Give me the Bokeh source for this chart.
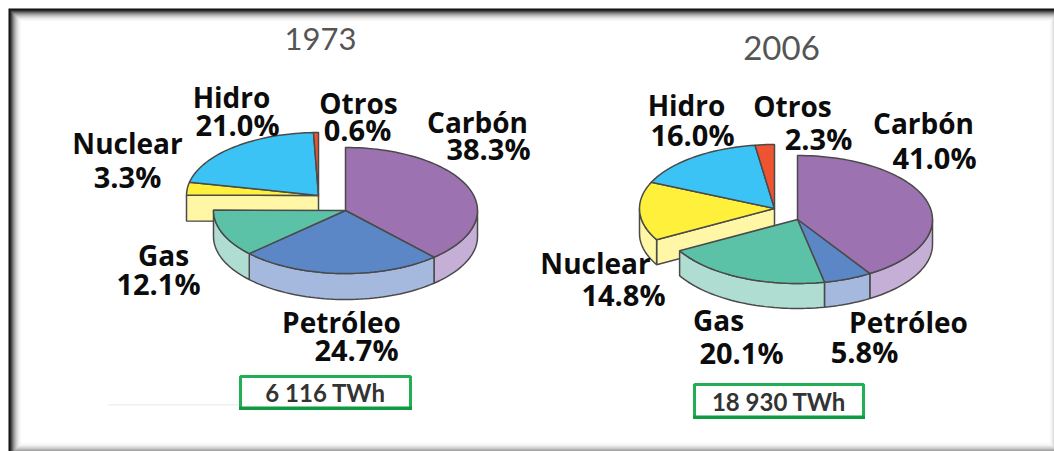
import math
from bokeh.plotting import figure
from bokeh.models import Range1d
from bokeh.core.properties import value
from bokeh.embed import file_html
from bokeh.resources import INLINE

# --- data ---
sources = ["Carbón", "Petróleo", "Gas", "Nuclear", "Hidro", "Otros"]
shares_1973 = [38.3, 24.7, 12.1, 3.3, 21.0, 0.6]
shares_2006 = [41.0, 5.8, 20.1, 14.8, 16.0, 2.3]
total_1973 = "6 116 TWh"
total_2006 = "18 930 TWh"
years = ["1973", "2006"]

# --- style ---
top_colors = ["#9C72B0", "#5B87C6", "#5CC2A7", "#FFF03C", "#3CC3F6", "#EE5432"]
side_colors = ["#C6AFD6", "#A5B9DF", "#AFDDD2", "#FFF6A6", "#3CC3F6", "#EE5432"]
edge = "#4a4a4a"
green = "#22AE55"
dark_green = "#0E9A40"

# --- layout (page pixels) ---
W, H = 1054, 451
p = figure(width=W, height=H, x_range=Range1d(0, W), y_range=Range1d(H, 0),
           output_backend="svg", toolbar_location=None, min_border=0,
           border_fill_color="white", background_fill_color="white")
p.xaxis.visible = False
p.yaxis.visible = False
p.grid.visible = False
p.outline_line_color = None

# picture frame: soft dark bevel, drawn as nested rectangles
bevel = ["#0c0c0c", "#1c1c1c", "#3a3a3a", "#5c5c5c", "#7c7c7c", "#989898", "#b0b0b0",
         "#c4c4c4", "#d6d6d6", "#e4e4e4", "#efefef", "#f7f7f7", "#fcfcfc", "#ffffff"]
n = len(bevel)
p.quad(left=[8 + i for i in range(n)],
       top=[8 + i for i in range(n)],
       right=[1054 - max(0, i - 8) * 1 for i in range(n)],
       bottom=[451 - max(0, i - 5) * 1.1 for i in range(n)],
       fill_color=bevel, line_color=None)
p.quad(left=[108], right=[240], top=[403.5], bottom=[405], fill_color="#f0f0f0", line_color=None)


def rim(cx, cy, rx, ry, deg, dy=0):
    a = math.radians(deg)
    return cx + rx * math.sin(a), cy - ry * math.cos(a) + dy


def arc(cx, cy, rx, ry, a0, a1, dy=0):
    steps = max(2, int(abs(a1 - a0) / 2) + 1)
    return [rim(cx, cy, rx, ry, a0 + (a1 - a0) * k / steps, dy) for k in range(steps + 1)]


def draw_slices(shares, start_share, idx, cx, cy, rx, ry, t):
    cum = start_share
    bounds = []
    for i in idx:
        bounds.append((i, cum * 3.6, (cum + shares[i]) * 3.6))
        cum += shares[i]
    for i, a0, a1 in bounds:
        b0, b1 = max(a0, 90), min(a1, 270)
        if b1 > b0:
            upper = arc(cx, cy, rx, ry, b0, b1)
            lower = arc(cx, cy, rx, ry, b0, b1, t)[::-1]
            pts = upper + lower
            p.patch([q[0] for q in pts], [q[1] for q in pts], fill_color=side_colors[i],
                    line_color=edge, line_width=1.5)
    for i, a0, a1 in bounds:
        pts = [(cx, cy)] + arc(cx, cy, rx, ry, a0, a1)
        p.patch([q[0] for q in pts], [q[1] for q in pts], fill_color=top_colors[i],
                line_color=edge, line_width=1.5)


def draw_pie(shares, main_c, expl_c, rx, ry, t):
    main_idx = [0, 1, 2]
    expl_idx = [3, 4, 5]
    s_expl = sum(shares[i] for i in main_idx)
    a = s_expl * 3.6
    ax, ay = expl_c
    bx, by = rim(ax, ay, rx, ry, a)
    p.patch([ax, bx, bx, ax], [ay, by, by + t, ay + t], fill_color=side_colors[3],
            line_color=edge, line_width=1.5)
    draw_slices(shares, s_expl, expl_idx, ax, ay, rx, ry, t)
    draw_slices(shares, 0, main_idx, main_c[0], main_c[1], rx, ry, t)


draw_pie(shares_1973, (345, 210), (318, 195), 132, 63, 26)
draw_pie(shares_2006, (797, 219), (774, 208), 135, 64, 25)

font = value("Open Sans")
def label(x, y, txt, size):
    p.text([x], [y], text=[txt], text_font=font, text_font_size=size, text_font_style="bold",
           text_color="#0c0c0c", text_align="center", text_baseline="middle")

pct = lambda v: f"{v:.1f}%"
pos_1973 = [((477, 121), (488, 148)), ((341, 321), (356, 349)), ((163, 254), (158, 283)),
            ((127, 142), (127, 176)), ((231, 96), (237, 124)), ((358, 102), (357, 129))]
pos_2006 = [((923, 122), (934, 157)), ((908, 321), (864, 351)), ((718, 319), (741, 352)),
            ((595, 262), (623, 294)), ((686, 104), (692, 134)), ((792, 105), (818, 138))]
for shares, pos in ((shares_1973, pos_1973), (shares_2006, pos_2006)):
    for name, v, (a, b) in zip(sources, shares, pos):
        label(a[0], a[1], name, "28px")
        label(b[0], b[1], pct(v), "29px")

for yr, x, y, size in zip(years, (320, 781), (38, 47), ("31px", "33px")):
    p.text([x], [y], text=[yr], text_font=value("Lato"), text_font_size=size, text_color="#555555",
           text_align="center", text_baseline="middle")

for txt, l, r, t, b in ((total_1973, 240, 410, 376, 408), (total_2006, 694, 863, 384, 417)):
    p.quad(left=[l], right=[r], top=[t], bottom=[b], fill_color="white", line_color=green, line_width=3)
    p.quad(left=[l - 1.5], right=[r + 1.5], top=[b - 2], bottom=[b + 1.5], fill_color=dark_green, line_color=None)
    p.text([(l + r) / 2], [(t + b) / 2], text=[txt], text_font=value("Lato"), text_font_size="24px",
           text_font_style="bold", text_color="#333333", text_align="center", text_baseline="middle")

open("out.html", "w").write(file_html(p, INLINE))
